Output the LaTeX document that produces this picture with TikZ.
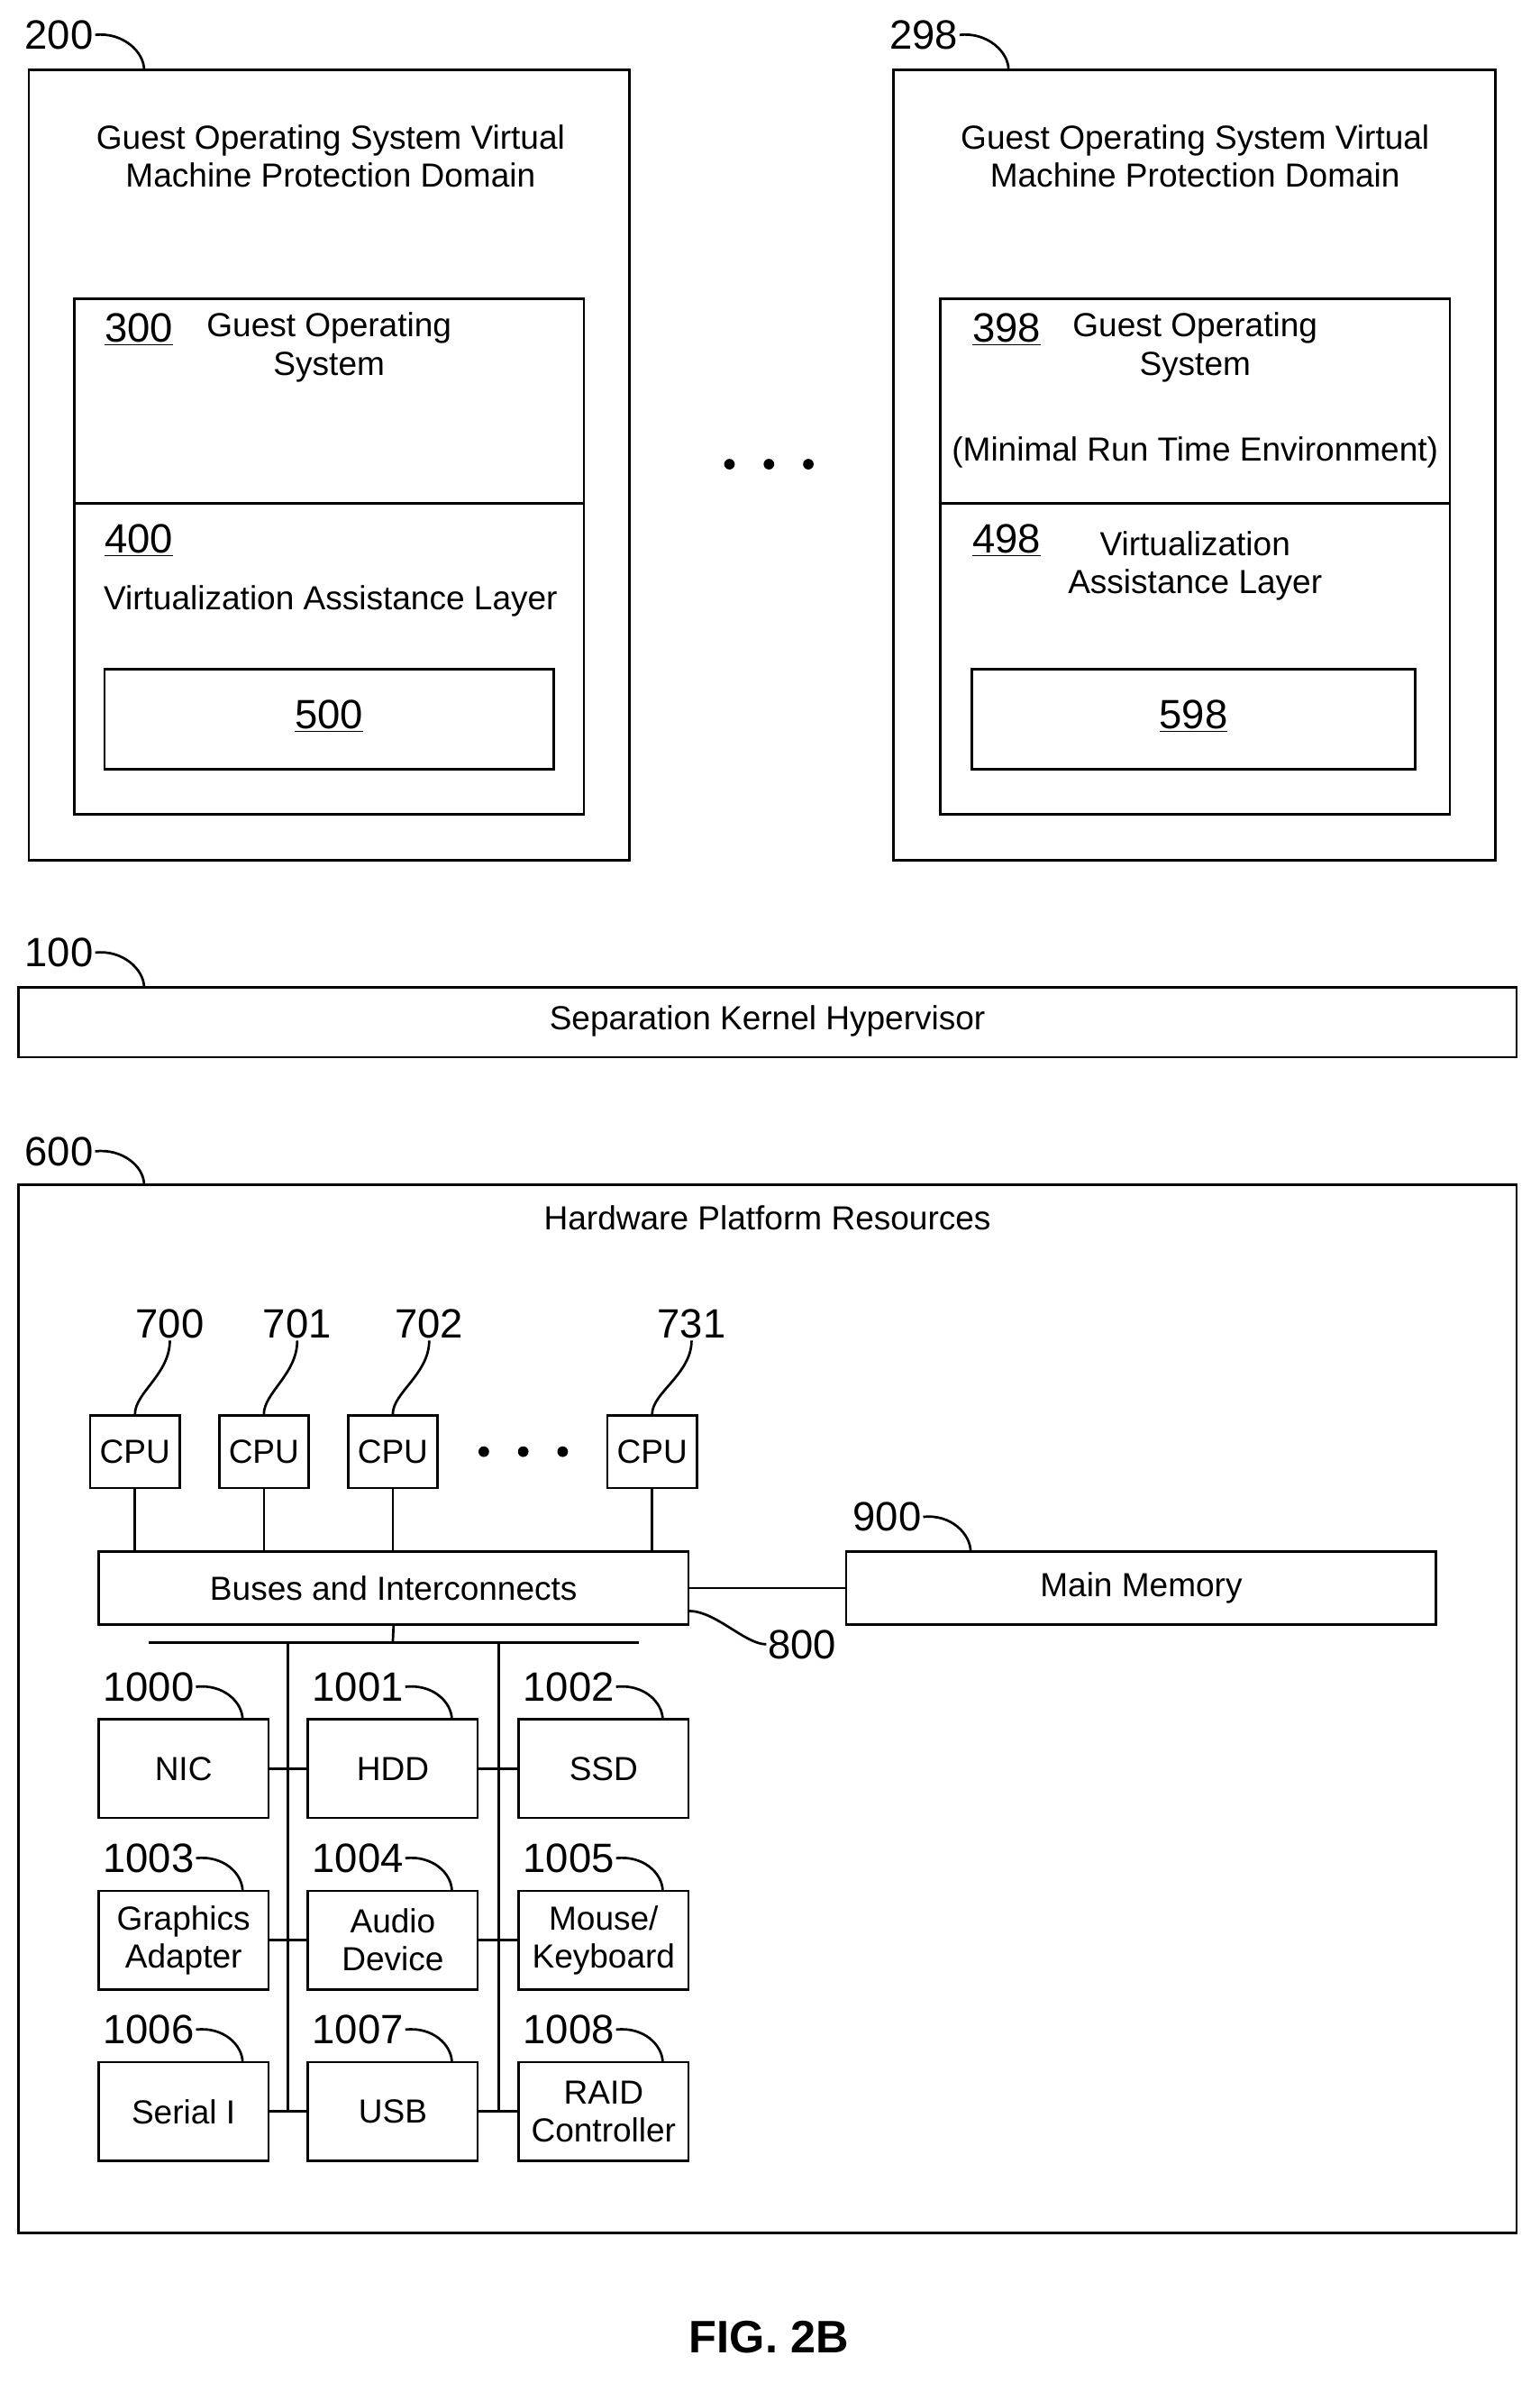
\documentclass[tikz,border=0pt]{standalone}
\usepackage{fontspec}
\setmainfont{Liberation Sans}
\usetikzlibrary{positioning}
\begin{document}
\begin{tikzpicture}[x=1pt,y=1pt,yscale=-1,
  box/.style={draw,line width=1.6pt,inner sep=0pt},
  txt/.style={font=\fontsize{22}{25}\selectfont,align=center},
  num/.style={font=\fontsize{27}{30}\selectfont,inner sep=1pt},
  lead/.style={line width=1.6pt},
  wire/.style={line width=1.6pt}]
\useasboundingbox (0,0) rectangle (1015,1571);

%Guest domain 200
\draw[box] (19,46) rectangle (415,567);
\node[txt] (t200) at (218,103) {Guest Operating System Virtual\\Machine Protection Domain};
\draw[box] (49,197) rectangle (385,537);
\draw[box] (49,332) -- (385,332);
\node[num,anchor=west] (n300) at (68,217) {\underline{300}};
\node[txt] (t300) at (217,229) {Guest Operating\\System};
\node[num,anchor=west] (n400) at (68,356) {\underline{400}};
\node[txt] (t400) at (218,396) {Virtualization Assistance Layer};
\draw[box] (69,441) rectangle (365,507);
\node[num] (n500) at (217,472) {\underline{500}};

%Guest domain 298
\draw[box] (589,46) rectangle (986,567);
\node[txt] (t298) at (788,103) {Guest Operating System Virtual\\Machine Protection Domain};
\draw[box] (620,197) rectangle (956,537);
\draw[box] (620,332) -- (956,332);
\node[num,anchor=west] (n398) at (640,217) {\underline{398}};
\node[txt] (t398) at (788,229) {Guest Operating\\System};
\node[txt] (t398b) at (788,298) {(Minimal Run Time Environment)};
\node[num,anchor=west] (n498) at (640,356) {\underline{498}};
\node[txt] (t498) at (788,373) {Virtualization\\Assistance Layer};
\draw[box] (641,441) rectangle (933,507);
\node[num] (n598) at (787,472) {\underline{598}};

\foreach \x in {481,507,533} \fill (\x,306) circle (3.5);

%Separation kernel
\draw[box] (12,651) rectangle (1000,697);
\node[txt] (t100) at (506,673) {Separation Kernel Hypervisor};

%Hardware
\draw[box] (12,781) rectangle (1000,1472);
\node[txt] (t600) at (506,803) {Hardware Platform Resources};

% leader labels
\foreach \n/\x/\y/\ex/\ey in {200/39/23/95/46, 298/609/23/665/46, 100/39/628/95/651, 600/39/759/95/781,
  900/585/1000/640/1023, 1000/98/1112/160/1134, 1001/236/1112/298/1134, 1002/375/1112/437/1134,
  1003/98/1225/160/1247, 1004/236/1225/298/1247, 1005/375/1225/437/1247,
  1006/98/1338/160/1360, 1007/236/1338/298/1360, 1008/375/1338/437/1360}{
  \node[num] (l\n) at (\x,\y) {\n};
  \draw[lead] (l\n.east) .. controls +(18,-2) and +(0,-12) .. (\ex,\ey);
}

% CPUs
\foreach \c/\x/\lx in {700/89/112, 701/174/196, 702/259/283, 731/430/456}{
  \node[box,minimum width=59,minimum height=48,txt] (c\c) at (\x,957) {CPU};
  \node[num] (l\c) at (\lx,873) {\c};
  \draw[lead] (l\c.south) .. controls +(0,22) and +(0,-14) .. (c\c.north);
  \draw[wire] (c\c.south) -- (\x,1023);
}
\foreach \x in {319,345,371} \fill (\x,957) circle (3.5);

\node[box,minimum width=389,minimum height=48,txt] (bus) at (259.5,1047) {Buses and Interconnects};
\node[box,minimum width=389,minimum height=48,txt] (mem) at (752.5,1047) {Main Memory};
\draw[wire] (bus.east) -- (mem.west);
\node[num] (l800) at (529,1084) {800};
\draw[lead] (454,1062) .. controls +(18,0) and +(-14,0) .. (l800.west);

\draw[wire] (98,1083) -- (421,1083);
\draw[wire] (bus.south) -- (259,1083);
\draw[wire] (190,1083) -- (190,1392);
\draw[wire] (329,1083) -- (329,1392);

% devices
\foreach \d/\x/\y/\t in {1000/121/1166/NIC, 1001/259/1166/HDD, 1002/398/1166/SSD,
  1003/121/1279/{Graphics\\Adapter}, 1004/259/1279/{Audio\\Device}, 1005/398/1279/{Mouse/\\Keyboard},
  1006/121/1392/Serial I/O, 1007/259/1392/USB, 1008/398/1392/{RAID\\Controller}}{
  \node[box,minimum width=112,minimum height=65,txt,font=\fontsize{22}{25}\selectfont] (d\d) at (\x,\y) {\t};
}
\foreach \a/\b in {1000/1001,1001/1002,1003/1004,1004/1005,1006/1007,1007/1008}
  \draw[wire] (d\a.east) -- (d\b.west);

\node[font=\bfseries\fontsize{30}{34}\selectfont] (fig) at (507,1541) {FIG. 2B};
\end{tikzpicture}
\end{document}
